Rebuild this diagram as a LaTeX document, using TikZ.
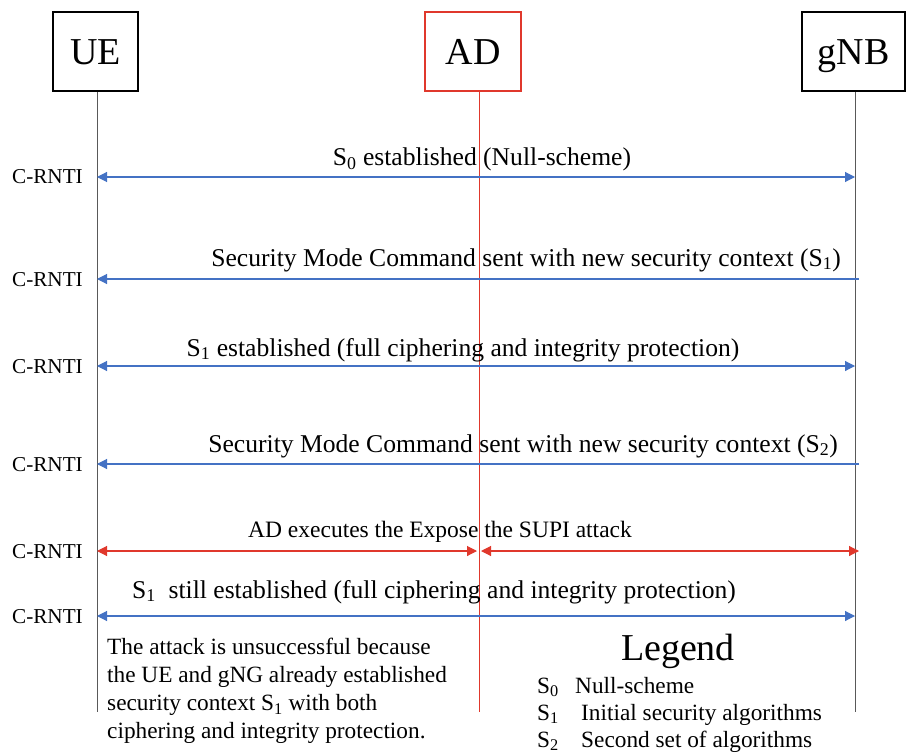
\documentclass[tikz,border=0pt]{standalone}
\usepackage{fontspec}
\setmainfont{Liberation Serif}
\usetikzlibrary{arrows.meta}
\definecolor{msgblue}{HTML}{4472C4}
\definecolor{adred}{HTML}{E0382C}
\begin{document}
\begin{tikzpicture}[x=1pt,y=-1pt,
  entity/.style={draw=black, line width=2pt, minimum height=79pt, inner sep=0pt,
    text height=26pt, text depth=0pt, font=\fontsize{38}{40}\selectfont},
  lifeline/.style={draw=black!65, line width=0.7pt},
  tip/.tip={Triangle[length=10pt,width=10pt]},
  bmsg/.style={draw=msgblue, line width=1.1pt},
  rmsg/.style={draw=adred, line width=1.1pt},
  msgtext/.style={font=\fontsize{25.6}{28}\selectfont, inner sep=0pt},
  rnti/.style={font=\fontsize{21.2}{23}\selectfont, inner sep=0pt, anchor=base east},
  notetext/.style={font=\fontsize{23.3}{28}\selectfont, inner sep=0pt, align=left},
]
\useasboundingbox (0,0) rectangle (907,754);

% participants
\node[entity, minimum width=85pt] (ue) at (95.5,51.5) {UE};
\node[entity, minimum width=96pt, draw=adred] (ad) at (473,51.5) {AD};
\node[entity, minimum width=103pt] (gnb) at (853.5,51.5) {gNB};

% lifelines
\coordinate (ueend) at (97,712);
\coordinate (adend) at (479,712);
\coordinate (gnbend) at (855,712);
\draw[lifeline] (ue.south -| ueend) -- (ueend);
\draw[adred, line width=0.7pt] (ad.south -| adend) -- (adend);
\draw[lifeline] (gnb.south -| gnbend) -- (gnbend);

% message levels on the lifelines
\foreach \n/\y in {1/177,2/279,3/366,4/464,5/551,6/616}{
  \coordinate (u\n) at (97,\y);
  \coordinate (a\n) at (479,\y);
  \coordinate (g\n) at (855,\y);
  \node[rnti] (rnti\n) at (83,\y+7) {C-RNTI};
}
\coordinate (g2s) at (859,279);
\coordinate (g4s) at (859,464);
\coordinate (a5l) at (477,551);
\coordinate (a5r) at (481,551);
\coordinate (g5e) at (859,551);

% messages
\draw[bmsg, {tip}-{tip}] (u1) -- (g1);
\node[msgtext, anchor=base] (m1) at (482,166) {S\textsubscript{0} established (Null-scheme)};

\draw[bmsg, -{tip}] (g2s) -- (u2);
\node[msgtext, anchor=base east] (m2) at (841,266) {Security Mode Command sent with new security context (S\textsubscript{1})};

\draw[bmsg, {tip}-{tip}] (u3) -- (g3);
\node[msgtext, anchor=base] (m3) at (463,356) {S\textsubscript{1} established (full ciphering and integrity protection)};

\draw[bmsg, -{tip}] (g4s) -- (u4);
\node[msgtext, anchor=base east] (m4) at (838,452) {Security Mode Command sent with new security context (S\textsubscript{2})};

\draw[rmsg, {tip}-{tip}] (u5) -- (a5l);
\draw[rmsg, {tip}-{tip}] (a5r) -- (g5e);
\node[msgtext, anchor=base, font=\fontsize{23.5}{26}\selectfont] (m5) at (440,537) {AD executes the Expose the SUPI attack};

\draw[bmsg, {tip}-{tip}] (u6) -- (g6);
\node[msgtext, anchor=base] (m6) at (434,598) {S\textsubscript{1}\ \ still established (full ciphering and integrity protection)};

% explanation
\node[notetext, anchor=north west] (note) at (107,638) {The attack is unsuccessful because\\
the UE and gNG already established\\
security context S\textsubscript{1} with both\\
ciphering and integrity protection.};

% legend
\node[inner sep=0pt, anchor=base, font=\fontsize{38}{40}\selectfont] (legend) at (678,660) {Legend};
\node[notetext, anchor=base west] (k0) at (537,693) {S\textsubscript{0}};
\node[notetext, anchor=base west] (v0) at (575,693) {Null-scheme};
\node[notetext, anchor=base west] (k1) at (537,720) {S\textsubscript{1}};
\node[notetext, anchor=base west] (v1) at (581,720) {Initial security algorithms};
\node[notetext, anchor=base west] (k2) at (537,747) {S\textsubscript{2}};
\node[notetext, anchor=base west] (v2) at (581,747) {Second set of algorithms};
\end{tikzpicture}
\end{document}
